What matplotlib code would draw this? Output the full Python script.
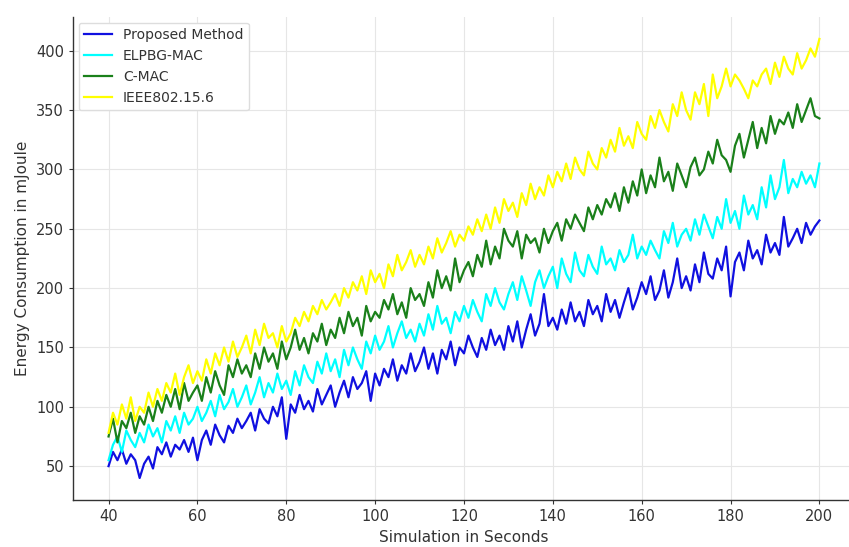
import matplotlib
matplotlib.use("Agg")
import matplotlib.pyplot as plt

seconds = list(range(40, 201))

proposed = [
    50, 62, 55, 64, 52, 60, 55, 40, 52, 58,
    48, 66, 60, 70, 58, 68, 64, 72, 62, 74,
    55, 72, 80, 68, 85, 76, 70, 84, 78, 90,
    82, 88, 95, 80, 98, 90, 86, 100, 92, 108,
    73, 102, 95, 110, 98, 105, 96, 115, 102, 110,
    118, 100, 112, 122, 108, 125, 115, 120, 130, 105,
    128, 118, 132, 125, 140, 122, 135, 128, 145, 130,
    138, 150, 132, 145, 128, 148, 140, 155, 135, 150,
    145, 160, 150, 142, 158, 148, 165, 152, 160, 148,
    168, 155, 172, 150, 165, 178, 160, 170, 195, 168,
    175, 165, 182, 170, 188, 172, 180, 168, 190, 178,
    185, 172, 195, 180, 190, 175, 188, 200, 182, 192,
    205, 195, 210, 190, 198, 215, 192, 205, 225, 200,
    210, 198, 220, 205, 230, 212, 208, 225, 215, 235,
    193, 222, 230, 215, 240, 225, 232, 220, 245, 230,
    238, 228, 260, 235, 242, 250, 238, 255, 245, 252,
    257,
]

elpbg = [
    55, 68, 75, 62, 80, 72, 66, 78, 70, 85,
    75, 82, 70, 88, 80, 92, 78, 95, 85, 90,
    100, 88, 95, 105, 92, 110, 98, 104, 115, 100,
    108, 118, 102, 112, 125, 108, 120, 112, 128, 115,
    122, 110, 130, 118, 135, 125, 120, 138, 128, 145,
    130, 140, 125, 148, 135, 150, 140, 132, 155, 145,
    160, 148, 155, 168, 150, 162, 172, 158, 165, 155,
    170, 160, 178, 165, 185, 170, 175, 162, 180, 172,
    185, 175, 190, 180, 172, 195, 185, 200, 188, 182,
    195, 205, 190, 210, 198, 185, 205, 215, 200, 210,
    218, 200, 225, 212, 205, 230, 215, 210, 228, 218,
    212, 235, 220, 225, 215, 232, 222, 228, 245, 225,
    235, 228, 240, 232, 225, 248, 238, 255, 235, 245,
    250, 240, 258, 245, 262, 252, 242, 260, 250, 275,
    255, 265, 250, 278, 262, 270, 258, 285, 268, 295,
    275, 285, 308, 280, 292, 285, 298, 288, 295, 285,
    305,
]

cmac = [
    75, 90, 70, 88, 82, 95, 78, 92, 85, 100,
    88, 105, 95, 110, 100, 115, 98, 120, 105, 112,
    118, 105, 125, 112, 130, 118, 110, 135, 125, 140,
    128, 135, 125, 145, 132, 150, 138, 145, 132, 155,
    140, 150, 165, 148, 158, 145, 162, 155, 170, 152,
    165, 158, 175, 162, 180, 168, 175, 160, 185, 172,
    180, 175, 190, 182, 195, 178, 188, 175, 200, 190,
    195, 185, 205, 192, 215, 200, 210, 198, 225, 205,
    215, 222, 210, 228, 218, 240, 220, 235, 225, 250,
    240, 235, 248, 225, 245, 238, 242, 230, 250, 238,
    248, 255, 240, 258, 250, 262, 255, 248, 268, 258,
    270, 262, 275, 268, 280, 265, 285, 272, 290, 278,
    300, 280, 295, 285, 310, 290, 298, 282, 305, 295,
    285, 302, 310, 295, 300, 315, 305, 325, 312, 308,
    298, 320, 330, 310, 325, 340, 318, 335, 322, 345,
    330, 342, 338, 348, 335, 355, 340, 350, 360, 345,
    343,
]

ieee = [
    78, 95, 85, 102, 90, 108, 88, 100, 95, 112,
    100, 115, 105, 120, 112, 128, 110, 125, 135, 120,
    130, 122, 140, 128, 145, 135, 150, 138, 155, 142,
    150, 160, 145, 165, 152, 170, 158, 162, 150, 168,
    155, 162, 175, 168, 180, 172, 185, 178, 190, 182,
    188, 195, 185, 200, 192, 205, 198, 210, 195, 215,
    205, 212, 200, 220, 210, 228, 215, 222, 232, 218,
    228, 220, 235, 225, 242, 230, 238, 248, 235, 245,
    240, 252, 245, 258, 248, 262, 250, 268, 255, 275,
    265, 272, 260, 280, 270, 288, 275, 285, 278, 295,
    285, 298, 290, 305, 292, 310, 300, 295, 315, 305,
    300, 318, 310, 325, 315, 335, 320, 328, 318, 340,
    330, 325, 345, 335, 350, 340, 332, 355, 345, 365,
    350, 342, 365, 355, 372, 345, 380, 360, 370, 385,
    370, 380, 375, 368, 360, 375, 370, 380, 385, 372,
    390, 378, 395, 385, 380, 398, 385, 392, 402, 395,
    410,
]

fig = plt.figure(figsize=(8.49, 5.47), dpi=100)
ax = fig.add_axes([0.086, 0.086, 0.921, 0.883])

ax.plot(seconds, proposed, color="#1010e0", lw=1.6, label="Proposed Method")
ax.plot(seconds, elpbg, color="cyan", lw=1.6, label="ELPBG-MAC")
ax.plot(seconds, cmac, color="#1a801a", lw=1.6, label="C-MAC")
ax.plot(seconds, ieee, color="yellow", lw=1.6, label="IEEE802.15.6")

ax.set_xlim(32, 208)
ax.set_ylim(21.5, 428.5)
ax.set_xticks(range(40, 201, 20))
ax.set_yticks(range(50, 401, 50))
ax.grid(True, color="#e6e6e6", lw=0.8)
ax.set_axisbelow(True)
for side in ("top", "right"):
    ax.spines[side].set_visible(False)
for side in ("left", "bottom"):
    ax.spines[side].set_color("#333333")
    ax.spines[side].set_linewidth(1.0)
ax.tick_params(labelsize=10.5, color="#333333", length=3, labelcolor="#333333")

ax.set_xlabel("Simulation in Seconds", fontsize=11, color="#333333")
ax.set_ylabel("Energy Consumption in mJoule", fontsize=11, color="#333333")

leg = ax.legend(loc="upper left", fontsize=10, frameon=True, framealpha=1,
                edgecolor="#dddddd", borderaxespad=0.4)
for text in leg.get_texts():
    text.set_color("#333333")

fig.savefig("out.png", dpi=100)
